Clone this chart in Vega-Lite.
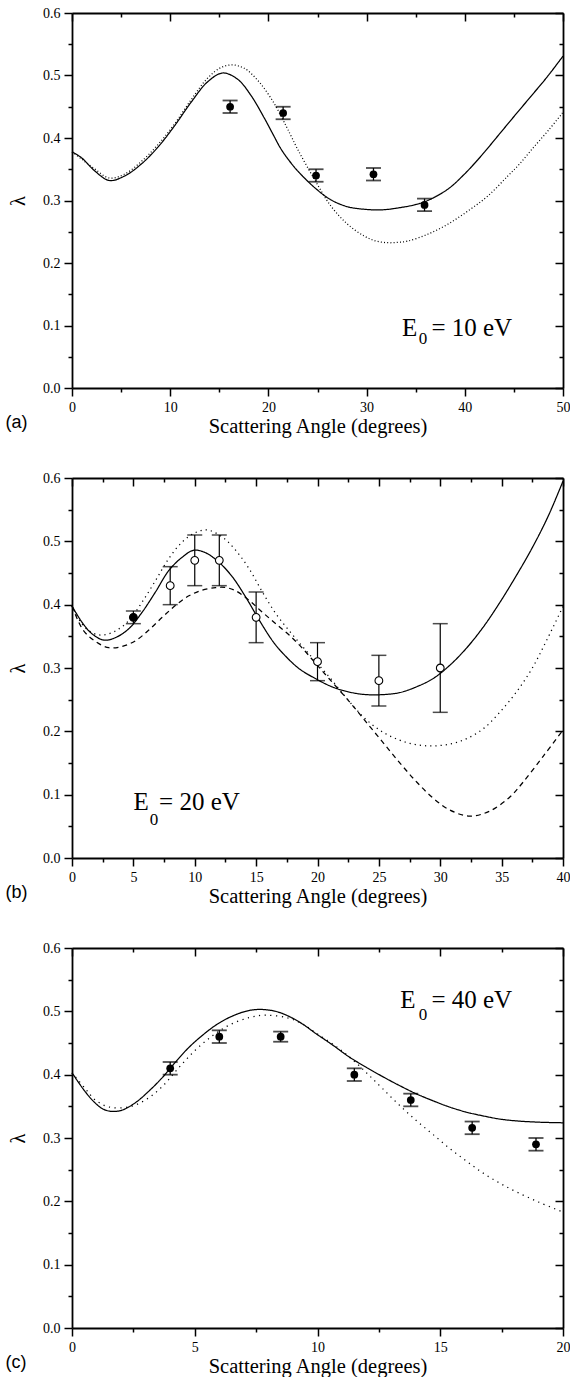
{
  "$schema": "https://vega.github.io/schema/vega-lite/v6.json",
  "background": "white",
  "padding": {"left": 5, "top": 6, "right": 0, "bottom": 0},
  "spacing": 34,
  "config": {
    "view": {"stroke": null},
    "style": {
      "guide-label": {"font": "Liberation Serif", "fontSize": 14, "fill": "black"},
      "guide-title": {"font": "Liberation Serif", "fontSize": 20.5, "fill": "black", "fontWeight": "normal"}
    },
    "axis": {
      "grid": false,
      "labelFont": "Liberation Serif",
      "labelFontSize": 14,
      "labelColor": "black",
      "labelPadding": 4,
      "titleFont": "Liberation Serif",
      "titleFontSize": 20.5,
      "titleFontWeight": "normal",
      "titleColor": "black",
      "domainColor": "black",
      "domainWidth": 1.8,
      "tickColor": "black",
      "tickWidth": 1.5
    },
    "title": {"font": "Liberation Sans", "fontSize": 18, "fontWeight": "normal", "color": "black"}
  },
  "datasets": {
    "a_curves": [
      {"x": 0, "y": 0.378, "model": "solid"}, {"x": 1, "y": 0.368, "model": "solid"}, {"x": 2.27, "y": 0.348, "model": "solid"},
      {"x": 3.8, "y": 0.332, "model": "solid"}, {"x": 5.33, "y": 0.339, "model": "solid"}, {"x": 7.03, "y": 0.358, "model": "solid"},
      {"x": 8.73, "y": 0.385, "model": "solid"}, {"x": 10.42, "y": 0.419, "model": "solid"}, {"x": 12.12, "y": 0.457, "model": "solid"},
      {"x": 13.82, "y": 0.49, "model": "solid"}, {"x": 15.35, "y": 0.504, "model": "solid"}, {"x": 16.87, "y": 0.494, "model": "solid"},
      {"x": 18.23, "y": 0.468, "model": "solid"}, {"x": 19.58, "y": 0.432, "model": "solid"}, {"x": 20.5, "y": 0.405, "model": "solid"},
      {"x": 21.3, "y": 0.382, "model": "solid"}, {"x": 22.3, "y": 0.36, "model": "solid"}, {"x": 23.0, "y": 0.347, "model": "solid"},
      {"x": 24.68, "y": 0.321, "model": "solid"}, {"x": 26.37, "y": 0.301, "model": "solid"}, {"x": 28.07, "y": 0.29, "model": "solid"},
      {"x": 29.77, "y": 0.286, "model": "solid"}, {"x": 31.47, "y": 0.285, "model": "solid"}, {"x": 33.17, "y": 0.288, "model": "solid"},
      {"x": 34.86, "y": 0.293, "model": "solid"}, {"x": 36.22, "y": 0.3, "model": "solid"}, {"x": 38.26, "y": 0.318, "model": "solid"},
      {"x": 39.95, "y": 0.342, "model": "solid"}, {"x": 41.65, "y": 0.371, "model": "solid"}, {"x": 43.35, "y": 0.403, "model": "solid"},
      {"x": 45.04, "y": 0.435, "model": "solid"}, {"x": 46.7, "y": 0.466, "model": "solid"}, {"x": 48.4, "y": 0.498, "model": "solid"},
      {"x": 50, "y": 0.531, "model": "solid"},
      {"x": 0, "y": 0.378, "model": "dotted"}, {"x": 1, "y": 0.366, "model": "dotted"}, {"x": 2.27, "y": 0.351, "model": "dotted"},
      {"x": 3.8, "y": 0.336, "model": "dotted"}, {"x": 5.33, "y": 0.342, "model": "dotted"}, {"x": 7.03, "y": 0.362, "model": "dotted"},
      {"x": 8.73, "y": 0.389, "model": "dotted"}, {"x": 10.42, "y": 0.422, "model": "dotted"}, {"x": 12.12, "y": 0.461, "model": "dotted"},
      {"x": 13.82, "y": 0.496, "model": "dotted"}, {"x": 15.2, "y": 0.513, "model": "dotted"}, {"x": 16.3, "y": 0.517, "model": "dotted"},
      {"x": 17.2, "y": 0.514, "model": "dotted"}, {"x": 17.89, "y": 0.508, "model": "dotted"}, {"x": 19.25, "y": 0.486, "model": "dotted"},
      {"x": 20.6, "y": 0.455, "model": "dotted"}, {"x": 21.45, "y": 0.43, "model": "dotted"}, {"x": 21.97, "y": 0.414, "model": "dotted"},
      {"x": 22.98, "y": 0.382, "model": "dotted"}, {"x": 24.68, "y": 0.334, "model": "dotted"}, {"x": 26.37, "y": 0.291, "model": "dotted"},
      {"x": 28.07, "y": 0.262, "model": "dotted"}, {"x": 29.77, "y": 0.243, "model": "dotted"}, {"x": 31.0, "y": 0.235, "model": "dotted"},
      {"x": 32.15, "y": 0.2325, "model": "dotted"}, {"x": 33.2, "y": 0.233, "model": "dotted"}, {"x": 34.18, "y": 0.235, "model": "dotted"},
      {"x": 36.22, "y": 0.246, "model": "dotted"}, {"x": 38.26, "y": 0.262, "model": "dotted"}, {"x": 40.3, "y": 0.283, "model": "dotted"},
      {"x": 42.33, "y": 0.307, "model": "dotted"}, {"x": 44.37, "y": 0.339, "model": "dotted"}, {"x": 45.55, "y": 0.358, "model": "dotted"},
      {"x": 47.0, "y": 0.385, "model": "dotted"}, {"x": 48.5, "y": 0.412, "model": "dotted"}, {"x": 50, "y": 0.441, "model": "dotted"}
    ],
    "a_points": [
      {"x": 16.1, "y": 0.45, "lo": 0.44, "hi": 0.46},
      {"x": 21.5, "y": 0.44, "lo": 0.43, "hi": 0.45},
      {"x": 24.85, "y": 0.34, "lo": 0.33, "hi": 0.35},
      {"x": 30.7, "y": 0.342, "lo": 0.332, "hi": 0.352},
      {"x": 35.9, "y": 0.293, "lo": 0.283, "hi": 0.303}
    ],
    "a_text": [{"x": 33.6, "y": 0.084, "t": "E"}, {"x": 36.6, "y": 0.084, "t": "= 10 eV"}],
    "a_sub": [{"x": 35.3, "y": 0.07, "t": "0"}],
    "b_curves": [
      {"x": 0, "y": 0.398, "model": "solid"}, {"x": 0.82, "y": 0.372, "model": "solid"}, {"x": 1.63, "y": 0.354, "model": "solid"},
      {"x": 2.59, "y": 0.344, "model": "solid"}, {"x": 3.54, "y": 0.348, "model": "solid"}, {"x": 4.63, "y": 0.362, "model": "solid"},
      {"x": 5.71, "y": 0.388, "model": "solid"}, {"x": 6.8, "y": 0.42, "model": "solid"}, {"x": 7.89, "y": 0.454, "model": "solid"},
      {"x": 8.98, "y": 0.475, "model": "solid"}, {"x": 9.93, "y": 0.486, "model": "solid"}, {"x": 10.88, "y": 0.482, "model": "solid"},
      {"x": 11.97, "y": 0.467, "model": "solid"}, {"x": 13.06, "y": 0.444, "model": "solid"}, {"x": 14.15, "y": 0.412, "model": "solid"},
      {"x": 15.24, "y": 0.376, "model": "solid"}, {"x": 16.33, "y": 0.343, "model": "solid"}, {"x": 17.14, "y": 0.324, "model": "solid"},
      {"x": 18.5, "y": 0.299, "model": "solid"}, {"x": 19.86, "y": 0.283, "model": "solid"}, {"x": 21.22, "y": 0.27, "model": "solid"},
      {"x": 22.59, "y": 0.262, "model": "solid"}, {"x": 23.95, "y": 0.258, "model": "solid"}, {"x": 25.31, "y": 0.258, "model": "solid"},
      {"x": 26.67, "y": 0.261, "model": "solid"}, {"x": 28.03, "y": 0.27, "model": "solid"}, {"x": 29.39, "y": 0.283, "model": "solid"},
      {"x": 30.76, "y": 0.304, "model": "solid"}, {"x": 32.12, "y": 0.331, "model": "solid"}, {"x": 33.48, "y": 0.364, "model": "solid"},
      {"x": 34.84, "y": 0.403, "model": "solid"}, {"x": 36.2, "y": 0.446, "model": "solid"}, {"x": 37.5, "y": 0.49, "model": "solid"},
      {"x": 38.8, "y": 0.54, "model": "solid"}, {"x": 40, "y": 0.595, "model": "solid"},
      {"x": 0, "y": 0.398, "model": "dotted"}, {"x": 0.8, "y": 0.37, "model": "dotted"}, {"x": 1.6, "y": 0.356, "model": "dotted"},
      {"x": 2.45, "y": 0.352, "model": "dotted"}, {"x": 3.5, "y": 0.358, "model": "dotted"}, {"x": 4.63, "y": 0.375, "model": "dotted"},
      {"x": 5.71, "y": 0.404, "model": "dotted"}, {"x": 6.8, "y": 0.438, "model": "dotted"}, {"x": 7.89, "y": 0.473, "model": "dotted"},
      {"x": 8.98, "y": 0.499, "model": "dotted"}, {"x": 10.07, "y": 0.514, "model": "dotted"}, {"x": 11.0, "y": 0.518, "model": "dotted"},
      {"x": 12.24, "y": 0.507, "model": "dotted"}, {"x": 13.33, "y": 0.486, "model": "dotted"}, {"x": 14.42, "y": 0.457, "model": "dotted"},
      {"x": 15.51, "y": 0.42, "model": "dotted"}, {"x": 16.6, "y": 0.386, "model": "dotted"}, {"x": 17.69, "y": 0.359, "model": "dotted"},
      {"x": 18.78, "y": 0.334, "model": "dotted"}, {"x": 19.86, "y": 0.31, "model": "dotted"}, {"x": 21.0, "y": 0.285, "model": "dotted"},
      {"x": 22.0, "y": 0.261, "model": "dotted"}, {"x": 23.0, "y": 0.238, "model": "dotted"}, {"x": 24.0, "y": 0.218, "model": "dotted"},
      {"x": 25.3, "y": 0.199, "model": "dotted"}, {"x": 26.7, "y": 0.186, "model": "dotted"}, {"x": 28.0, "y": 0.179, "model": "dotted"},
      {"x": 29.4, "y": 0.177, "model": "dotted"}, {"x": 30.8, "y": 0.18, "model": "dotted"}, {"x": 32.1, "y": 0.188, "model": "dotted"},
      {"x": 33.5, "y": 0.204, "model": "dotted"}, {"x": 34.8, "y": 0.229, "model": "dotted"}, {"x": 36.2, "y": 0.262, "model": "dotted"},
      {"x": 37.5, "y": 0.3, "model": "dotted"}, {"x": 38.7, "y": 0.345, "model": "dotted"}, {"x": 40, "y": 0.397, "model": "dotted"},
      {"x": 0, "y": 0.398, "model": "dashed"}, {"x": 0.9, "y": 0.36, "model": "dashed"}, {"x": 1.9, "y": 0.342, "model": "dashed"},
      {"x": 3.0, "y": 0.332, "model": "dashed"}, {"x": 4.08, "y": 0.334, "model": "dashed"}, {"x": 5.17, "y": 0.343, "model": "dashed"},
      {"x": 6.26, "y": 0.36, "model": "dashed"}, {"x": 7.35, "y": 0.38, "model": "dashed"}, {"x": 8.44, "y": 0.399, "model": "dashed"},
      {"x": 9.52, "y": 0.414, "model": "dashed"}, {"x": 10.61, "y": 0.423, "model": "dashed"}, {"x": 11.7, "y": 0.427, "model": "dashed"},
      {"x": 12.52, "y": 0.427, "model": "dashed"}, {"x": 13.33, "y": 0.422, "model": "dashed"}, {"x": 14.42, "y": 0.407, "model": "dashed"},
      {"x": 15.51, "y": 0.388, "model": "dashed"}, {"x": 16.6, "y": 0.37, "model": "dashed"}, {"x": 17.69, "y": 0.352, "model": "dashed"},
      {"x": 18.78, "y": 0.331, "model": "dashed"}, {"x": 19.86, "y": 0.307, "model": "dashed"}, {"x": 20.95, "y": 0.283, "model": "dashed"},
      {"x": 22.59, "y": 0.247, "model": "dashed"}, {"x": 23.95, "y": 0.215, "model": "dashed"}, {"x": 25.31, "y": 0.183, "model": "dashed"},
      {"x": 26.67, "y": 0.151, "model": "dashed"}, {"x": 28.03, "y": 0.121, "model": "dashed"}, {"x": 29.39, "y": 0.095, "model": "dashed"},
      {"x": 30.76, "y": 0.076, "model": "dashed"}, {"x": 32.39, "y": 0.066, "model": "dashed"}, {"x": 34.02, "y": 0.074, "model": "dashed"},
      {"x": 35.65, "y": 0.096, "model": "dashed"}, {"x": 36.76, "y": 0.12, "model": "dashed"}, {"x": 38.4, "y": 0.161, "model": "dashed"},
      {"x": 40, "y": 0.202, "model": "dashed"}
    ],
    "b_points": [
      {"x": 5, "y": 0.38, "lo": 0.37, "hi": 0.39, "open": false},
      {"x": 8, "y": 0.43, "lo": 0.4, "hi": 0.46, "open": true},
      {"x": 10, "y": 0.47, "lo": 0.43, "hi": 0.51, "open": true},
      {"x": 12, "y": 0.47, "lo": 0.43, "hi": 0.51, "open": true},
      {"x": 15, "y": 0.38, "lo": 0.34, "hi": 0.42, "open": true},
      {"x": 20, "y": 0.31, "lo": 0.28, "hi": 0.34, "open": true},
      {"x": 25, "y": 0.28, "lo": 0.24, "hi": 0.32, "open": true},
      {"x": 30, "y": 0.3, "lo": 0.23, "hi": 0.37, "open": true}
    ],
    "b_text": [{"x": 5.0, "y": 0.0754, "t": "E"}, {"x": 7.09, "y": 0.0754, "t": "= 20 eV"}],
    "b_sub": [{"x": 6.34, "y": 0.052, "t": "0"}],
    "c_curves": [
      {"x": 0, "y": 0.403, "model": "solid"}, {"x": 0.54, "y": 0.373, "model": "solid"}, {"x": 0.95, "y": 0.355, "model": "solid"},
      {"x": 1.25, "y": 0.346, "model": "solid"}, {"x": 1.6, "y": 0.342, "model": "solid"}, {"x": 2.04, "y": 0.344, "model": "solid"},
      {"x": 2.59, "y": 0.356, "model": "solid"}, {"x": 3.13, "y": 0.374, "model": "solid"}, {"x": 3.67, "y": 0.395, "model": "solid"},
      {"x": 4.22, "y": 0.42, "model": "solid"}, {"x": 4.76, "y": 0.443, "model": "solid"}, {"x": 5.31, "y": 0.462, "model": "solid"},
      {"x": 5.85, "y": 0.478, "model": "solid"}, {"x": 6.39, "y": 0.49, "model": "solid"}, {"x": 7.07, "y": 0.5, "model": "solid"},
      {"x": 7.62, "y": 0.503, "model": "solid"}, {"x": 8.3, "y": 0.5, "model": "solid"}, {"x": 8.84, "y": 0.492, "model": "solid"},
      {"x": 9.39, "y": 0.48, "model": "solid"}, {"x": 9.93, "y": 0.465, "model": "solid"}, {"x": 10.61, "y": 0.447, "model": "solid"},
      {"x": 11.29, "y": 0.428, "model": "solid"}, {"x": 11.97, "y": 0.412, "model": "solid"}, {"x": 12.65, "y": 0.397, "model": "solid"},
      {"x": 13.33, "y": 0.383, "model": "solid"}, {"x": 14.01, "y": 0.37, "model": "solid"}, {"x": 14.69, "y": 0.359, "model": "solid"},
      {"x": 15.37, "y": 0.349, "model": "solid"}, {"x": 16.05, "y": 0.341, "model": "solid"}, {"x": 16.73, "y": 0.335, "model": "solid"},
      {"x": 17.41, "y": 0.33, "model": "solid"}, {"x": 18.1, "y": 0.327, "model": "solid"}, {"x": 19, "y": 0.325, "model": "solid"},
      {"x": 20, "y": 0.324, "model": "solid"},
      {"x": 0, "y": 0.403, "model": "dotted"}, {"x": 0.54, "y": 0.378, "model": "dotted"}, {"x": 0.95, "y": 0.36, "model": "dotted"},
      {"x": 1.5, "y": 0.349, "model": "dotted"}, {"x": 2.31, "y": 0.349, "model": "dotted"}, {"x": 2.99, "y": 0.36, "model": "dotted"},
      {"x": 3.67, "y": 0.381, "model": "dotted"}, {"x": 4.35, "y": 0.411, "model": "dotted"}, {"x": 5.03, "y": 0.439, "model": "dotted"},
      {"x": 5.71, "y": 0.461, "model": "dotted"}, {"x": 6.39, "y": 0.478, "model": "dotted"}, {"x": 7.21, "y": 0.49, "model": "dotted"},
      {"x": 7.9, "y": 0.494, "model": "dotted"}, {"x": 8.84, "y": 0.489, "model": "dotted"}, {"x": 9.39, "y": 0.48, "model": "dotted"},
      {"x": 9.93, "y": 0.466, "model": "dotted"}, {"x": 10.88, "y": 0.441, "model": "dotted"}, {"x": 11.56, "y": 0.419, "model": "dotted"},
      {"x": 12.1, "y": 0.399, "model": "dotted"}, {"x": 12.65, "y": 0.378, "model": "dotted"}, {"x": 13.33, "y": 0.352, "model": "dotted"},
      {"x": 14.01, "y": 0.328, "model": "dotted"}, {"x": 14.69, "y": 0.306, "model": "dotted"}, {"x": 15.37, "y": 0.284, "model": "dotted"},
      {"x": 16.05, "y": 0.264, "model": "dotted"}, {"x": 16.73, "y": 0.245, "model": "dotted"}, {"x": 17.41, "y": 0.229, "model": "dotted"},
      {"x": 18.1, "y": 0.215, "model": "dotted"}, {"x": 19, "y": 0.199, "model": "dotted"}, {"x": 20, "y": 0.183, "model": "dotted"}
    ],
    "c_points": [
      {"x": 4, "y": 0.41, "lo": 0.4, "hi": 0.42},
      {"x": 6, "y": 0.46, "lo": 0.45, "hi": 0.47},
      {"x": 8.5, "y": 0.46, "lo": 0.452, "hi": 0.468},
      {"x": 11.5, "y": 0.4, "lo": 0.39, "hi": 0.41},
      {"x": 13.8, "y": 0.36, "lo": 0.35, "hi": 0.37},
      {"x": 16.3, "y": 0.316, "lo": 0.306, "hi": 0.326},
      {"x": 18.9, "y": 0.29, "lo": 0.28, "hi": 0.3}
    ],
    "c_text": [{"x": 13.37, "y": 0.505, "t": "E"}, {"x": 14.64, "y": 0.505, "t": "= 40 eV"}],
    "c_sub": [{"x": 14.12, "y": 0.487, "t": "0"}]
  },
  "resolve": {"scale": {"strokeDash": "independent"}},
  "vconcat": [
    {
      "width": 491,
      "height": 375,
      "title": {"text": "(a)", "orient": "bottom", "anchor": "start", "frame": "bounds", "dy": -27, "dx": -3},
      "resolve": {"axis": {"x": "independent", "y": "independent"}},
      "layer": [
        {
          "data": {"name": "a_curves"},
          "mark": {"type": "line", "color": "black", "strokeWidth": 1.25, "interpolate": "catmull-rom"},
          "encoding": {
            "x": {"field": "x", "type": "quantitative", "scale": {"domain": [0, 50], "nice": false, "zero": false},
              "axis": {"orient": "bottom", "values": [0, 5, 10, 15, 20, 25, 30, 35, 40, 45, 50], "format": "d",
                "labelFont": "Liberation Serif", "labelFontSize": 14,
                "labelExpr": "datum.value % 10 === 0 ? datum.label : ''", "labelFlush": false, "labelOverlap": false,
                "tickSize": {"condition": {"test": "datum.value % 10 !== 0", "value": 4}, "value": 8},
                "title": "Scattering Angle (degrees)", "titlePadding": 2}},
            "y": {"field": "y", "type": "quantitative", "scale": {"domain": [0, 0.6], "nice": false, "zero": false},
              "axis": {"orient": "left", "values": [0, 0.05, 0.1, 0.15, 0.2, 0.25, 0.3, 0.35, 0.4, 0.45, 0.5, 0.55, 0.6],
                "labelFont": "Liberation Serif", "labelFontSize": 14,
                "labelExpr": "round(datum.value * 100) % 10 === 0 ? format(datum.value, '.1f') : ''", "labelFlush": false, "labelOverlap": false,
                "tickSize": {"condition": {"test": "round(datum.value * 100) % 10 !== 0", "value": 4}, "value": 8},
                "title": "λ", "titlePadding": 14}},
            "strokeDash": {"field": "model", "type": "nominal", "scale": {"domain": ["solid", "dotted"], "range": [[1, 0], [1, 2.2]]}, "legend": null}
          }
        },
        {
          "data": {"name": "a_points"},
          "mark": {"type": "rule", "color": "black", "strokeWidth": 1.3},
          "encoding": {
            "x": {"field": "x", "type": "quantitative", "scale": {"domain": [0, 50], "nice": false, "zero": false},
              "axis": {"orient": "top", "values": [0, 5, 10, 15, 20, 25, 30, 35, 40, 45, 50], "labels": false, "title": null,
                "tickSize": {"condition": {"test": "datum.value % 10 !== 0", "value": -4}, "value": -8}}},
            "y": {"field": "lo", "type": "quantitative", "scale": {"domain": [0, 0.6], "nice": false, "zero": false},
              "axis": {"orient": "right", "values": [0, 0.05, 0.1, 0.15, 0.2, 0.25, 0.3, 0.35, 0.4, 0.45, 0.5, 0.55, 0.6], "labels": false, "title": null,
                "tickSize": {"condition": {"test": "round(datum.value * 100) % 10 !== 0", "value": -4}, "value": -8}}},
            "y2": {"field": "hi"}
          }
        },
        {
          "data": {"name": "a_points"},
          "mark": {"type": "tick", "orient": "horizontal", "color": "black", "size": 15, "thickness": 1.8},
          "encoding": {
            "x": {"field": "x", "type": "quantitative", "scale": {"domain": [0, 50], "nice": false, "zero": false}, "axis": null},
            "y": {"field": "lo", "type": "quantitative", "scale": {"domain": [0, 0.6], "nice": false, "zero": false}, "axis": null}
          }
        },
        {
          "data": {"name": "a_points"},
          "mark": {"type": "tick", "orient": "horizontal", "color": "black", "size": 15, "thickness": 1.8},
          "encoding": {
            "x": {"field": "x", "type": "quantitative", "scale": {"domain": [0, 50], "nice": false, "zero": false}, "axis": null},
            "y": {"field": "hi", "type": "quantitative", "scale": {"domain": [0, 0.6], "nice": false, "zero": false}, "axis": null}
          }
        },
        {
          "data": {"name": "a_points"},
          "mark": {"type": "circle", "color": "black", "opacity": 1, "size": 60},
          "encoding": {
            "x": {"field": "x", "type": "quantitative", "scale": {"domain": [0, 50], "nice": false, "zero": false}, "axis": null},
            "y": {"field": "y", "type": "quantitative", "scale": {"domain": [0, 0.6], "nice": false, "zero": false}, "axis": null}
          }
        },
        {
          "data": {"name": "a_text"},
          "mark": {"type": "text", "font": "Liberation Serif", "fontSize": 25, "align": "left", "baseline": "alphabetic", "color": "black"},
          "encoding": {
            "x": {"field": "x", "type": "quantitative", "scale": {"domain": [0, 50], "nice": false, "zero": false}, "axis": null},
            "y": {"field": "y", "type": "quantitative", "scale": {"domain": [0, 0.6], "nice": false, "zero": false}, "axis": null},
            "text": {"field": "t"}
          }
        },
        {
          "data": {"name": "a_sub"},
          "mark": {"type": "text", "font": "Liberation Serif", "fontSize": 17, "align": "left", "baseline": "alphabetic", "color": "black"},
          "encoding": {
            "x": {"field": "x", "type": "quantitative", "scale": {"domain": [0, 50], "nice": false, "zero": false}, "axis": null},
            "y": {"field": "y", "type": "quantitative", "scale": {"domain": [0, 0.6], "nice": false, "zero": false}, "axis": null},
            "text": {"field": "t"}
          }
        }
      ]
    },
    {
      "width": 491,
      "height": 380,
      "title": {"text": "(b)", "orient": "bottom", "anchor": "start", "frame": "bounds", "dy": -27, "dx": -3},
      "resolve": {"axis": {"x": "independent", "y": "independent"}},
      "layer": [
        {
          "data": {"name": "b_curves"},
          "mark": {"type": "line", "color": "black", "strokeWidth": 1.25, "interpolate": "catmull-rom"},
          "encoding": {
            "x": {"field": "x", "type": "quantitative", "scale": {"domain": [0, 40], "nice": false, "zero": false},
              "axis": {"orient": "bottom", "values": [0, 2.5, 5, 7.5, 10, 12.5, 15, 17.5, 20, 22.5, 25, 27.5, 30, 32.5, 35, 37.5, 40], "format": "d",
                "labelFont": "Liberation Serif", "labelFontSize": 14,
                "labelExpr": "datum.value % 5 === 0 ? datum.label : ''", "labelFlush": false, "labelOverlap": false,
                "tickSize": {"condition": {"test": "datum.value % 5 !== 0", "value": 4}, "value": 8},
                "title": "Scattering Angle (degrees)", "titlePadding": 2}},
            "y": {"field": "y", "type": "quantitative", "scale": {"domain": [0, 0.6], "nice": false, "zero": false},
              "axis": {"orient": "left", "values": [0, 0.05, 0.1, 0.15, 0.2, 0.25, 0.3, 0.35, 0.4, 0.45, 0.5, 0.55, 0.6],
                "labelFont": "Liberation Serif", "labelFontSize": 14,
                "labelExpr": "round(datum.value * 100) % 10 === 0 ? format(datum.value, '.1f') : ''", "labelFlush": false, "labelOverlap": false,
                "tickSize": {"condition": {"test": "round(datum.value * 100) % 10 !== 0", "value": 4}, "value": 8},
                "title": "λ", "titlePadding": 14}},
            "strokeDash": {"field": "model", "type": "nominal", "scale": {"domain": ["solid", "dotted", "dashed"], "range": [[1, 0], [1.2, 4], [5, 4]]}, "legend": null}
          }
        },
        {
          "data": {"name": "b_points"},
          "mark": {"type": "rule", "color": "black", "strokeWidth": 1.2},
          "encoding": {
            "x": {"field": "x", "type": "quantitative", "scale": {"domain": [0, 40], "nice": false, "zero": false},
              "axis": {"orient": "top", "values": [0, 2.5, 5, 7.5, 10, 12.5, 15, 17.5, 20, 22.5, 25, 27.5, 30, 32.5, 35, 37.5, 40], "labels": false, "title": null,
                "tickSize": {"condition": {"test": "datum.value % 5 !== 0", "value": -4}, "value": -8}}},
            "y": {"field": "lo", "type": "quantitative", "scale": {"domain": [0, 0.6], "nice": false, "zero": false},
              "axis": {"orient": "right", "values": [0, 0.05, 0.1, 0.15, 0.2, 0.25, 0.3, 0.35, 0.4, 0.45, 0.5, 0.55, 0.6], "labels": false, "title": null,
                "tickSize": {"condition": {"test": "round(datum.value * 100) % 10 !== 0", "value": -4}, "value": -8}}},
            "y2": {"field": "hi"}
          }
        },
        {
          "data": {"name": "b_points"},
          "mark": {"type": "tick", "orient": "horizontal", "color": "black", "size": 15, "thickness": 1.5},
          "encoding": {
            "x": {"field": "x", "type": "quantitative", "scale": {"domain": [0, 40], "nice": false, "zero": false}, "axis": null},
            "y": {"field": "lo", "type": "quantitative", "scale": {"domain": [0, 0.6], "nice": false, "zero": false}, "axis": null}
          }
        },
        {
          "data": {"name": "b_points"},
          "mark": {"type": "tick", "orient": "horizontal", "color": "black", "size": 15, "thickness": 1.5},
          "encoding": {
            "x": {"field": "x", "type": "quantitative", "scale": {"domain": [0, 40], "nice": false, "zero": false}, "axis": null},
            "y": {"field": "hi", "type": "quantitative", "scale": {"domain": [0, 0.6], "nice": false, "zero": false}, "axis": null}
          }
        },
        {
          "data": {"name": "b_points"},
          "mark": {"type": "circle", "stroke": "black", "strokeWidth": 1.1, "opacity": 1, "size": 60},
          "encoding": {
            "x": {"field": "x", "type": "quantitative", "scale": {"domain": [0, 40], "nice": false, "zero": false}, "axis": null},
            "y": {"field": "y", "type": "quantitative", "scale": {"domain": [0, 0.6], "nice": false, "zero": false}, "axis": null},
            "fill": {"condition": {"test": "datum.open", "value": "white"}, "value": "black"}
          }
        },
        {
          "data": {"name": "b_text"},
          "mark": {"type": "text", "font": "Liberation Serif", "fontSize": 25, "align": "left", "baseline": "alphabetic", "color": "black"},
          "encoding": {
            "x": {"field": "x", "type": "quantitative", "scale": {"domain": [0, 40], "nice": false, "zero": false}, "axis": null},
            "y": {"field": "y", "type": "quantitative", "scale": {"domain": [0, 0.6], "nice": false, "zero": false}, "axis": null},
            "text": {"field": "t"}
          }
        },
        {
          "data": {"name": "b_sub"},
          "mark": {"type": "text", "font": "Liberation Serif", "fontSize": 17, "align": "left", "baseline": "alphabetic", "color": "black"},
          "encoding": {
            "x": {"field": "x", "type": "quantitative", "scale": {"domain": [0, 40], "nice": false, "zero": false}, "axis": null},
            "y": {"field": "y", "type": "quantitative", "scale": {"domain": [0, 0.6], "nice": false, "zero": false}, "axis": null},
            "text": {"field": "t"}
          }
        }
      ]
    },
    {
      "width": 491,
      "height": 380,
      "title": {"text": "(c)", "orient": "bottom", "anchor": "start", "frame": "bounds", "dy": -27, "dx": -3},
      "resolve": {"axis": {"x": "independent", "y": "independent"}},
      "layer": [
        {
          "data": {"name": "c_curves"},
          "mark": {"type": "line", "color": "black", "strokeWidth": 1.25, "interpolate": "catmull-rom"},
          "encoding": {
            "x": {"field": "x", "type": "quantitative", "scale": {"domain": [0, 20], "nice": false, "zero": false},
              "axis": {"orient": "bottom", "values": [0, 2.5, 5, 7.5, 10, 12.5, 15, 17.5, 20], "format": "d",
                "labelFont": "Liberation Serif", "labelFontSize": 14,
                "labelExpr": "datum.value % 5 === 0 ? datum.label : ''", "labelFlush": false, "labelOverlap": false,
                "tickSize": {"condition": {"test": "datum.value % 5 !== 0", "value": 4}, "value": 8},
                "title": "Scattering Angle (degrees)", "titlePadding": 2}},
            "y": {"field": "y", "type": "quantitative", "scale": {"domain": [0, 0.6], "nice": false, "zero": false},
              "axis": {"orient": "left", "values": [0, 0.05, 0.1, 0.15, 0.2, 0.25, 0.3, 0.35, 0.4, 0.45, 0.5, 0.55, 0.6],
                "labelFont": "Liberation Serif", "labelFontSize": 14,
                "labelExpr": "round(datum.value * 100) % 10 === 0 ? format(datum.value, '.1f') : ''", "labelFlush": false, "labelOverlap": false,
                "tickSize": {"condition": {"test": "round(datum.value * 100) % 10 !== 0", "value": 4}, "value": 8},
                "title": "λ", "titlePadding": 14}},
            "strokeDash": {"field": "model", "type": "nominal", "scale": {"domain": ["solid", "dotted"], "range": [[1, 0], [1.2, 4.5]]}, "legend": null}
          }
        },
        {
          "data": {"name": "c_points"},
          "mark": {"type": "rule", "color": "black", "strokeWidth": 1.3},
          "encoding": {
            "x": {"field": "x", "type": "quantitative", "scale": {"domain": [0, 20], "nice": false, "zero": false},
              "axis": {"orient": "top", "values": [0, 2.5, 5, 7.5, 10, 12.5, 15, 17.5, 20], "labels": false, "title": null,
                "tickSize": {"condition": {"test": "datum.value % 5 !== 0", "value": -4}, "value": -8}}},
            "y": {"field": "lo", "type": "quantitative", "scale": {"domain": [0, 0.6], "nice": false, "zero": false},
              "axis": {"orient": "right", "values": [0, 0.05, 0.1, 0.15, 0.2, 0.25, 0.3, 0.35, 0.4, 0.45, 0.5, 0.55, 0.6], "labels": false, "title": null,
                "tickSize": {"condition": {"test": "round(datum.value * 100) % 10 !== 0", "value": -4}, "value": -8}}},
            "y2": {"field": "hi"}
          }
        },
        {
          "data": {"name": "c_points"},
          "mark": {"type": "tick", "orient": "horizontal", "color": "black", "size": 15, "thickness": 1.8},
          "encoding": {
            "x": {"field": "x", "type": "quantitative", "scale": {"domain": [0, 20], "nice": false, "zero": false}, "axis": null},
            "y": {"field": "lo", "type": "quantitative", "scale": {"domain": [0, 0.6], "nice": false, "zero": false}, "axis": null}
          }
        },
        {
          "data": {"name": "c_points"},
          "mark": {"type": "tick", "orient": "horizontal", "color": "black", "size": 15, "thickness": 1.8},
          "encoding": {
            "x": {"field": "x", "type": "quantitative", "scale": {"domain": [0, 20], "nice": false, "zero": false}, "axis": null},
            "y": {"field": "hi", "type": "quantitative", "scale": {"domain": [0, 0.6], "nice": false, "zero": false}, "axis": null}
          }
        },
        {
          "data": {"name": "c_points"},
          "mark": {"type": "circle", "color": "black", "opacity": 1, "size": 60},
          "encoding": {
            "x": {"field": "x", "type": "quantitative", "scale": {"domain": [0, 20], "nice": false, "zero": false}, "axis": null},
            "y": {"field": "y", "type": "quantitative", "scale": {"domain": [0, 0.6], "nice": false, "zero": false}, "axis": null}
          }
        },
        {
          "data": {"name": "c_text"},
          "mark": {"type": "text", "font": "Liberation Serif", "fontSize": 25, "align": "left", "baseline": "alphabetic", "color": "black"},
          "encoding": {
            "x": {"field": "x", "type": "quantitative", "scale": {"domain": [0, 20], "nice": false, "zero": false}, "axis": null},
            "y": {"field": "y", "type": "quantitative", "scale": {"domain": [0, 0.6], "nice": false, "zero": false}, "axis": null},
            "text": {"field": "t"}
          }
        },
        {
          "data": {"name": "c_sub"},
          "mark": {"type": "text", "font": "Liberation Serif", "fontSize": 17, "align": "left", "baseline": "alphabetic", "color": "black"},
          "encoding": {
            "x": {"field": "x", "type": "quantitative", "scale": {"domain": [0, 20], "nice": false, "zero": false}, "axis": null},
            "y": {"field": "y", "type": "quantitative", "scale": {"domain": [0, 0.6], "nice": false, "zero": false}, "axis": null},
            "text": {"field": "t"}
          }
        }
      ]
    }
  ]
}
